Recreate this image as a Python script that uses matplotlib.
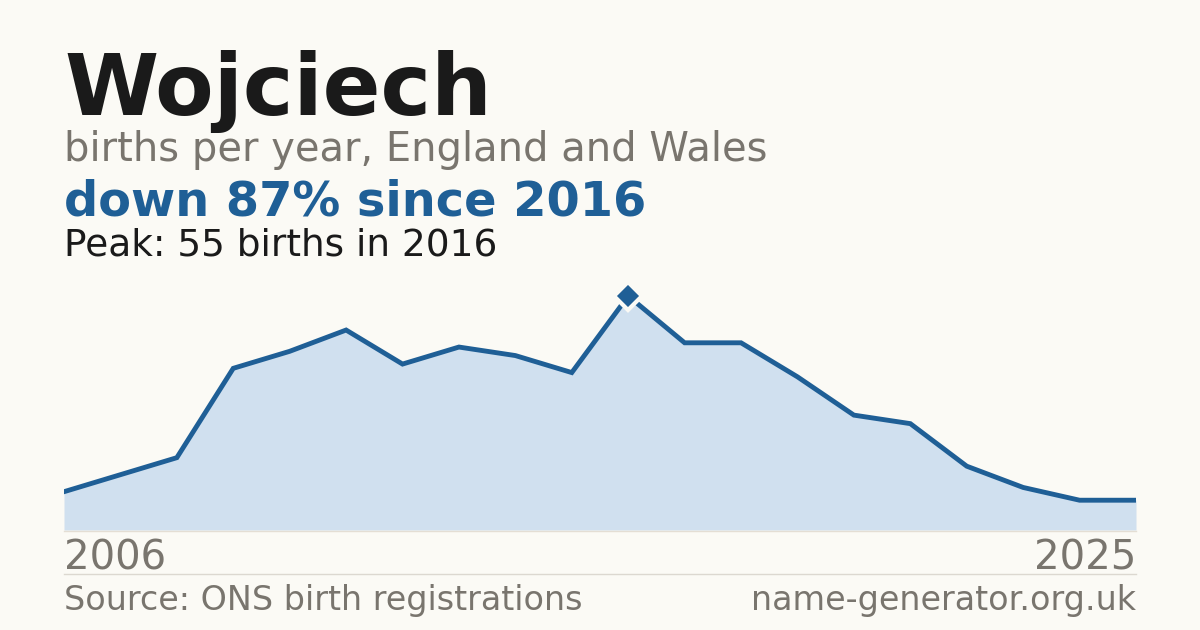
import matplotlib.pyplot as plt
import numpy as np

years = list(range(2006, 2026))
births = [9, 13, 17, 38, 42, 47, 39, 43, 41, 37, 55, 44, 44, 36, 27, 25, 15, 10, 7, 7]

name = 'Wojciech'
subtitle = 'births per year, England and Wales'
headline = 'down 87% since 2016'
peak_note = 'Peak: 55 births in 2016'
source = 'Source: ONS birth registrations'
site = 'name-generator.org.uk'

bg = '#fbfaf5'
blue = '#1f5f96'
fill = '#d0e0ef'
grey = '#79756e'
dark = '#1a1a1a'

W, H = 1200, 630
fig = plt.figure(figsize=(12, 6.3), dpi=100, facecolor=bg)


def fy(y):
    return 1 - y / H


# plot area: x 64..1136, y 280..530 px
ax = fig.add_axes([64 / W, fy(530), (1136 - 64) / W, 250 / H])
ax.set_facecolor(bg)
ax.fill_between(years, births, 0, color=fill, lw=0)
ax.plot(years, births, color=blue, lw=3.5, solid_joinstyle='miter')
pk = int(np.argmax(births))
ax.plot(years[pk], births[pk], marker='D', ms=14, color=blue,
        mec=bg, mew=3, zorder=5)
ax.set_xlim(years[0], years[-1])
ax.set_ylim(0, max(births) * 250 / 234)
ax.axis('off')

# baseline and separator
fig.add_artist(plt.Line2D([64 / W, 1136 / W], [fy(530.5)] * 2, color='#e4ded4', lw=1))
fig.add_artist(plt.Line2D([64 / W, 1136 / W], [fy(574)] * 2, color='#dcd8d0', lw=1))

fig.text(64 / W, fy(115), name, fontsize=61.5, fontweight='bold', color=dark, va='baseline')
fig.text(64 / W, fy(161), subtitle, fontsize=28.8, color=grey, va='baseline')
fig.text(64 / W, fy(215), headline, fontsize=34.5, fontweight='bold', color=blue, va='baseline')
fig.text(64 / W, fy(255), peak_note, fontsize=27, color=dark, va='baseline')

fig.text(64 / W, fy(569), str(years[0]), fontsize=29, color=grey, va='baseline')
fig.text(1136 / W, fy(569), str(years[-1]), fontsize=29, color=grey, va='baseline', ha='right')
fig.text(64 / W, fy(610), source, fontsize=24, color=grey, va='baseline')
fig.text(1136 / W, fy(610), site, fontsize=24, color=grey, va='baseline', ha='right')

fig.savefig('out.png', dpi=100, facecolor=bg)
